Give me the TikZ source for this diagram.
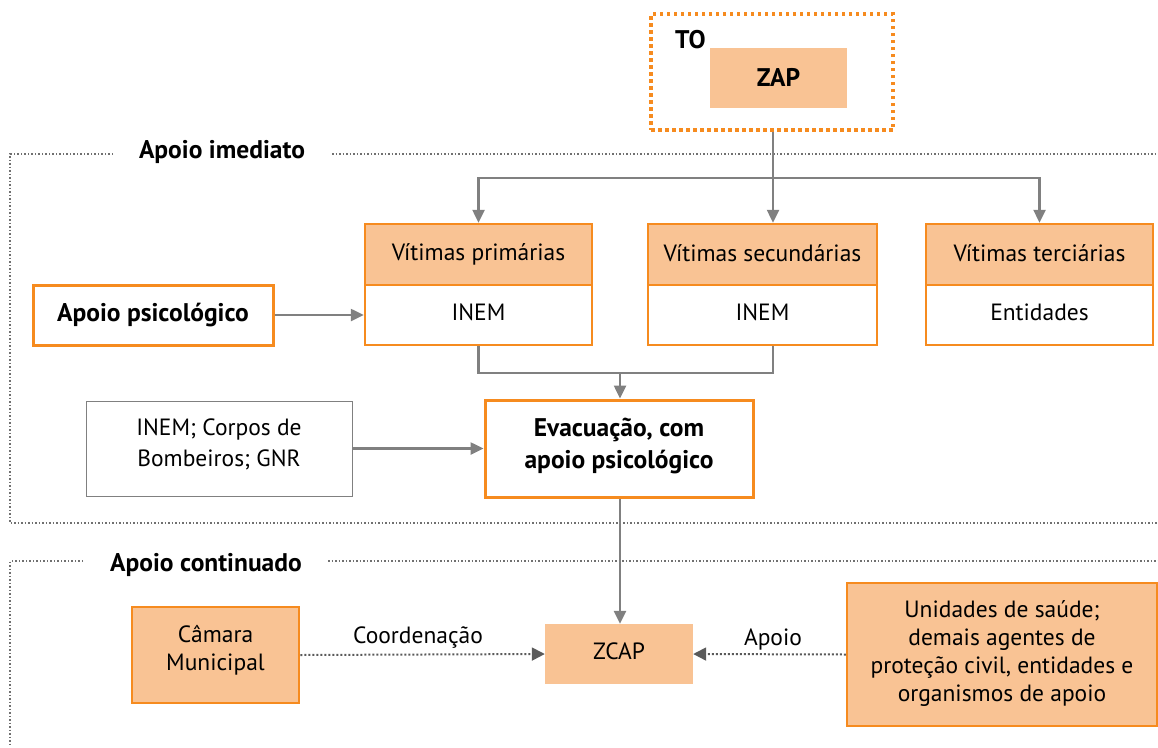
\documentclass[tikz,border=0pt]{standalone}
\usepackage{fontspec}
\setmainfont{PT Sans}
\usetikzlibrary{arrows.meta}
\definecolor{org}{HTML}{F68B1F}
\definecolor{peach}{HTML}{F9C394}
\definecolor{arr}{HTML}{808080}
\definecolor{darr}{HTML}{5A5A5A}
\definecolor{frm}{HTML}{707070}
\begin{document}
\begin{tikzpicture}[x=1pt,y=-1pt,
  font=\fontsize{23.5}{28}\selectfont,
  box/.style={rectangle, inner sep=0pt, align=center, draw=org, line width=2.5pt},
  hbox/.style={box, fill=peach},
  txt/.style={inner sep=0pt, align=center},
  conn/.style={draw=arr, line width=2.5pt, -{Triangle[length=13pt,width=12pt]}},
  plain/.style={draw=arr, line width=2.5pt},
  dconn/.style={draw=darr, line width=2pt, dotted, -{Triangle[length=13pt,width=13pt]}},
  frame/.style={draw=frm, line width=1.5pt, dotted},
  bf/.style={font=\fontsize{25.5}{32}\selectfont\bfseries},
  lbl/.style={inner sep=0pt, bf}
]
\useasboundingbox (0,0) rectangle (1158,747);

% frames
\draw[frame] (113,154) -- (10,154) -- (10,523) -- (1158,523);
\draw[frame] (332,154) -- (1158,154);
\node[lbl] (limm) at (222,152) {Apoio imediato};
\draw[frame] (83,561) -- (10,561) -- (10,747);
\draw[frame] (328,561) -- (1158,561);
\node[lbl] (lcont) at (206,565) {Apoio continuado};

% TO / ZAP
\node[draw=org, line width=3.5pt, dash pattern=on 3.5pt off 3.5pt, minimum width=242pt, minimum height=116pt, inner sep=0pt] (to) at (772,72) {};
\node[lbl, anchor=west] (tolbl) at (675,40) {TO};
\node[fill=peach, minimum width=137pt, minimum height=60pt, inner sep=0pt, bf] (zap) at (778.5,78) {\raisebox{1pt}{ZAP}};

% victims
\node[hbox, minimum width=227pt, minimum height=61pt] (vph) at (478.5,254.5) {\raisebox{3pt}{Vítimas primárias}};
\node[box, minimum width=227pt, minimum height=60pt] (vpb) at (478.5,315) {\raisebox{5pt}{INEM}};
\node[hbox, minimum width=229pt, minimum height=61pt] (vsh) at (762.5,254.5) {\raisebox{3pt}{Vítimas secundárias}};
\node[box, minimum width=229pt, minimum height=60pt] (vsb) at (762.5,315) {\raisebox{5pt}{INEM}};
\node[hbox, minimum width=227pt, minimum height=61pt] (vth) at (1039.5,254.5) {\raisebox{3pt}{Vítimas terciárias}};
\node[box, minimum width=227pt, minimum height=60pt] (vtb) at (1039.5,315) {\raisebox{5pt}{Entidades}};

\coordinate (split) at (773,178);
\draw[conn] (to.south -| split) -- (split |- vsh.north);
\draw[conn] (split) -| (vph.north);
\draw[conn] (split) -| (vth.north);

% apoio psicologico
\node[box, line width=3pt, minimum width=240pt, minimum height=60pt, bf] (aps) at (153,315) {Apoio psicológico};
\draw[conn] (aps.east) -- (vpb.west);

% evacuacao
\node[box, line width=3pt, minimum width=268pt, minimum height=97pt] (ev) at (619,448.5) {};
\node[txt, bf] (evt) at (619,445.5) {Evacuação, com\\apoio psicológico};
\coordinate (merge) at (620,373);
\draw[plain] (vpb.south) |- (merge);
\draw[plain] (vpb.south -| split) |- (merge);
\draw[conn] (merge) -- (ev.north -| merge);

\node[draw=arr, line width=1pt, minimum width=266pt, minimum height=95pt, inner sep=0pt] (inem) at (219,448.5) {};
\node[txt, font=\fontsize{23.5}{31}\selectfont] (inemt) at (219,444.5) {INEM; Corpos de\\Bombeiros; GNR};
\draw[conn] (inem.east) -- (ev.west);

% continued support
\node[fill=peach, minimum width=148pt, minimum height=60pt, inner sep=0pt] (zcap) at (619,654) {\raisebox{6pt}{ZCAP}};
\draw[conn] (ev.south -| merge) -- (zcap.north -| merge);

\node[hbox, minimum width=167pt, minimum height=96pt] (cam) at (215.5,655) {};
\node[txt] (camt) at (215.5,650) {Câmara\\Municipal};
\node[hbox, minimum width=310pt, minimum height=143pt] (uni) at (1002,654.5) {};
\node[txt] (unit) at (1002,653.5) {Unidades de saúde;\\demais agentes de\\proteção civil, entidades e\\organismos de apoio};

\draw[dconn] (cam.east) -- (zcap.west);
\draw[dconn] (uni.west) -- (zcap.east);
\node[anchor=base, inner sep=0pt] (lcoord) at (418,643) {Coordenação};
\node[anchor=base, inner sep=0pt] (lapoio) at (773,645) {Apoio};
\end{tikzpicture}
\end{document}
